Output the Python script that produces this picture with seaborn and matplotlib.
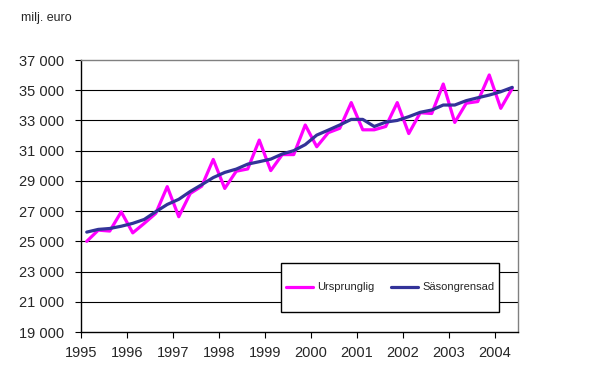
import matplotlib
matplotlib.use("Agg")
import matplotlib.pyplot as plt
import matplotlib.ticker as mticker
from matplotlib.patches import Rectangle
import seaborn as sns
import pandas as pd

# kvartal 1995Q1 - 2004Q2
years = [y for y in range(1995, 2005) for q in range(4)][:38]
quarters = [q for y in range(1995, 2005) for q in range(1, 5)][:38]

ursprunglig = [25000, 25740, 25680, 26950, 25560, 26190, 26850, 28620,
               26630, 28170, 28650, 30420, 28500, 29640, 29790, 31700,
               29680, 30740, 30740, 32700, 31260, 32190, 32480, 34180,
               32380, 32380, 32600, 34180, 32130, 33510, 33460, 35410,
               32870, 34140, 34250, 36010, 33800, 35120]
sasongrensad = [25610, 25790, 25850, 26000, 26190, 26450, 26960, 27440,
                27780, 28300, 28750, 29220, 29560, 29780, 30110, 30270,
                30440, 30780, 31000, 31400, 32030, 32360, 32700, 33070,
                33070, 32600, 32890, 33000, 33250, 33540, 33690, 34020,
                34020, 34310, 34500, 34680, 34900, 35190]
series_names = ['Ursprunglig', 'Säsongrensad']
year_ticks = list(range(1995, 2005))
y_ticks = list(range(19000, 37001, 2000))

# punkt i mitten av kvartalet
t = [y + (q - 1) / 4 + 0.125 for y, q in zip(years, quarters)]
df = pd.concat([
    pd.DataFrame({'t': t, 'value': ursprunglig, 'serie': series_names[0]}),
    pd.DataFrame({'t': t, 'value': sasongrensad, 'serie': series_names[1]}),
])

sns.set_style('white')
plt.rcParams['font.family'] = ['Liberation Sans', 'DejaVu Sans']

fig = plt.figure(figsize=(6.06, 3.83), dpi=100)
ax = fig.add_axes([81 / 606, 1 - 332 / 383, 437 / 606, 272 / 383])

sns.lineplot(data=df, x='t', y='value', hue='serie', ax=ax,
             palette={'Ursprunglig': '#ff00ff', 'Säsongrensad': '#333399'},
             linewidth=2.3, legend=False, zorder=4)

ax.set_xlim(1995, 1995 + len(t) / 4)
ax.set_ylim(19000, 37000)
ax.set_xticks(year_ticks)
ax.set_xticklabels([str(y) for y in year_ticks])
ax.set_yticks(y_ticks)
ax.yaxis.set_major_formatter(
    mticker.FuncFormatter(lambda v, p: f'{int(v):,}'.replace(',', ' ')))
ax.set_xlabel('')
ax.set_ylabel('')

for v in y_ticks[1:-1]:
    ax.axhline(v, color='black', lw=0.8, zorder=1)

ax.tick_params(axis='y', direction='out', length=4, width=0.8, color='black',
               pad=8, labelsize=10.5, left=True)
ax.tick_params(axis='x', direction='out', length=4, width=0.8, color='black',
               pad=6, labelsize=10.5, bottom=True)
for s in ['left', 'bottom']:
    ax.spines[s].set_color('black')
    ax.spines[s].set_linewidth(1.0)
for s in ['top', 'right']:
    ax.spines[s].set_color('#808080')
    ax.spines[s].set_linewidth(1.0)

# legendruta
ax.add_patch(Rectangle((200 / 437, 20 / 272), 218 / 437, 49 / 272,
                       transform=ax.transAxes, facecolor='white',
                       edgecolor='black', lw=1.0, zorder=3))
handles = [plt.Line2D([], [], color='#ff00ff', lw=2.3),
           plt.Line2D([], [], color='#333399', lw=2.3)]
ax.legend(handles, series_names, ncol=2, frameon=False, fontsize=8,
          loc='center', bbox_to_anchor=(309 / 437, 44.5 / 272),
          handlelength=2.4, handletextpad=0.4, columnspacing=1.5)

fig.text(21 / 606, 1 - 21.5 / 383, 'milj. euro', fontsize=9, va='baseline')

fig.savefig('out.png', dpi=100)
